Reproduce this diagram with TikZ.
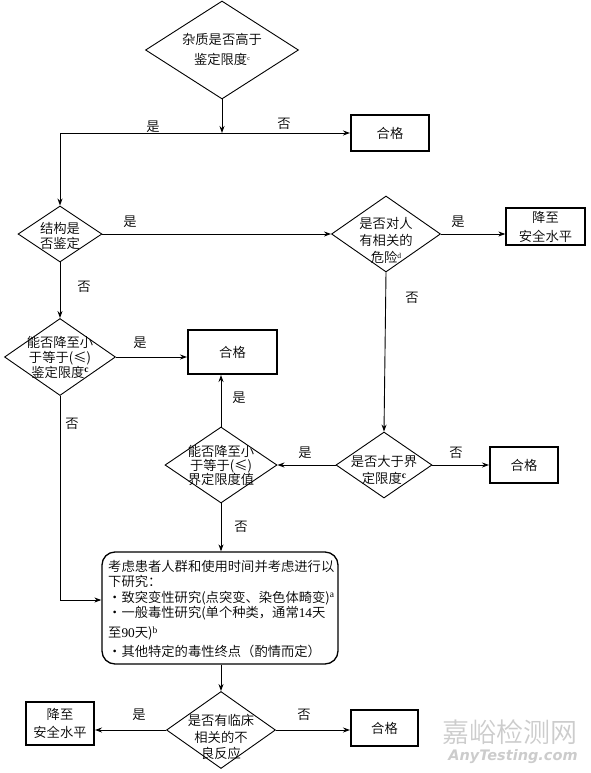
\documentclass[tikz,border=0pt]{standalone}
\usepackage{fontspec}
\setmainfont{Noto Sans CJK SC}[UprightFont={* DemiLight}]
\newfontfamily\lat{Liberation Serif}
\newfontfamily\dv{DejaVu Sans}
\usetikzlibrary{shapes.geometric,arrows.meta}
\tikzset{
  dia/.style={draw,line width=0.9pt,shape=diamond,inner sep=0pt,minimum width=#1},
  bx/.style={draw,line width=2pt,inner sep=0pt},
  thin box/.style={draw,line width=1.3pt,inner sep=0pt},
  txt/.style={inner sep=0pt,align=center,font=\fontsize{13.3}{16}\selectfont},
  lab/.style={inner sep=0pt,font=\fontsize{13.3}{16}\selectfont},
  arr/.style={line width=0.9pt,-{Stealth[length=7pt,width=5pt]}},
  ln/.style={line width=0.9pt},
}
\newcommand{\sups}[1]{\raisebox{4.5pt}{\lat\fontsize{9.5}{10}\selectfont #1}}
\begin{document}
\begin{tikzpicture}[x=1pt,y=-1pt]
\useasboundingbox (0,0) rectangle (591,773);
% diamonds
\node[dia=153pt,minimum height=98pt] (d1) at (222,50) {};
\node[dia=84pt,minimum height=56pt] (d2) at (60,234) {};
\node[dia=109pt,minimum height=76pt] (d3) at (386,234) {};
\node[dia=111pt,minimum height=77pt] (d4) at (60,357) {};
\node[dia=96pt,minimum height=66pt] (d5) at (384,465) {};
\node[dia=112pt,minimum height=76pt] (d6) at (221,465) {};
\node[dia=109pt,minimum height=77pt] (d7) at (221,730) {};
% diamond texts
\node[txt,font=\fontsize{13.3}{20}\selectfont] (t1) at (222,49) {杂质是否高于\\鉴定限度\raisebox{4pt}{\lat\fontsize{6}{6}\selectfont c}};
\node[txt,font=\fontsize{13.3}{15}\selectfont] (t2) at (60,235.5) {结构是\\否鉴定};
\node[txt,font=\fontsize{13.3}{17}\selectfont] (t3) at (386,240) {是否对人\\有相关的\\危险\raisebox{4pt}{\lat\fontsize{7.5}{8}\selectfont d}};
\node[txt,font=\fontsize{13.3}{15}\selectfont] (t4) at (60,357) {能否降至小\\于等于(≤)\\鉴定限度\sups{\bfseries c}};
\node[txt,font=\fontsize{13.3}{17}\selectfont] (t5) at (384,469.5) {是否大于界\\定限度\sups{\bfseries c}};
\node[txt,font=\fontsize{13.3}{14}\selectfont] (t6) at (221,465.5) {能否降至小\\于等于(≤)\\界定限度值};
\node[txt,font=\fontsize{13.3}{16.5}\selectfont] (t7) at (221,737) {是否有临床\\相关的不\\良反应};
% boxes
\node[bx,minimum width=78pt,minimum height=36pt,txt] (b1) at (390,133) {合格};
\node[thin box,minimum width=79pt,minimum height=37pt,txt,font=\fontsize{13.3}{19}\selectfont] (b2) at (545.5,226.5) {降至\\安全水平};
\node[bx,minimum width=89pt,minimum height=44pt,txt] (b3) at (232.5,352) {合格};
\node[bx,minimum width=68pt,minimum height=36pt,txt] (b4) at (524,465) {合格};
\node[bx,minimum width=68pt,minimum height=43pt,txt,font=\fontsize{13.3}{18}\selectfont] (b5) at (60,723.5) {降至\\安全水平};
\node[bx,minimum width=67pt,minimum height=36pt,txt] (b6) at (384.5,728) {合格};
% rounded box
\node[draw,line width=1.3pt,rounded corners=13pt,minimum width=236pt,minimum height=112pt,inner sep=0pt] (rb) at (220,608) {};
\node[inner sep=0pt,anchor=north west,align=left,font=\fontsize{13.3}{15.5}\selectfont] (rt) at (108,560)
 {考虑患者人群和使用时间并考虑进行以\\
  下研究：\\
  ・致突变性研究(点突变、染色体畸变)\sups{a}\\
  ・一般毒性研究(单个种类，通常{\lat 14}天\\[4.5pt]
  至{\lat 90}天)\sups{b}\\[3.5pt]
  ・其他特定的毒性终点（酌情而定）};
% coordinates
\coordinate (j1) at (222,133);
\coordinate (c1) at (60,133);
\coordinate (c2) at (60,600);
% connectors
\draw[arr] (d1.south) -- (j1);
\draw[arr] (j1) -- (b1.west);
\draw[arr] (j1) -- (c1) -- (d2.north);
\draw[arr] (d2.east) -- (d3.west);
\draw[arr] (d3.east) -- (d3.east -| b2.west);
\draw[arr] (d3.south) -- (d5.north);
\draw[arr] (d2.south) -- (d4.north);
\draw[arr] (d4.east) -- (d4.east -| b3.west);
\draw[arr] (d6.north) -- (d6.north |- b3.south);
\draw[arr] (d5.west) -- (d6.east);
\draw[arr] (d5.east) -- (b4.west);
\draw[arr] (d4.south) -- (c2) -- (c2 -| rb.west);
\draw[arr] (d6.south) -- (d6.south |- rb.north);
\draw[arr] (d7.north |- rb.south) -- (d7.north);
\draw[arr] (d7.west) -- (d7.west -| b5.east);
\draw[arr] (d7.east) -- (d7.east -| b6.west);
% labels
\node[lab] (l1) at (153,127) {是};
\node[lab] (l2) at (284,124) {否};
\node[lab] (l3) at (130,222) {是};
\node[lab] (l4) at (458,222) {是};
\node[lab] (l5) at (84,287) {否};
\node[lab] (l6) at (412,298) {否};
\node[lab] (l7) at (140,343) {是};
\node[lab] (l8) at (239,398) {是};
\node[lab] (l9) at (305,453) {是};
\node[lab] (l10) at (456,453) {否};
\node[lab] (l11) at (72,424) {否};
\node[lab] (l12) at (241,527) {否};
\node[lab] (l13) at (139,715) {是};
\node[lab] (l14) at (304,715) {否};
% watermark
\node[inner sep=0pt,text=black!20,font=\fontsize{27}{27}\selectfont] (w1) at (510,732) {嘉峪检测网};
\node[inner sep=0pt,text=black!20,font=\dv\bfseries\itshape\fontsize{14.5}{15}\selectfont] (w2) at (513,757) {AnyTesting.com};
\end{tikzpicture}
\end{document}
